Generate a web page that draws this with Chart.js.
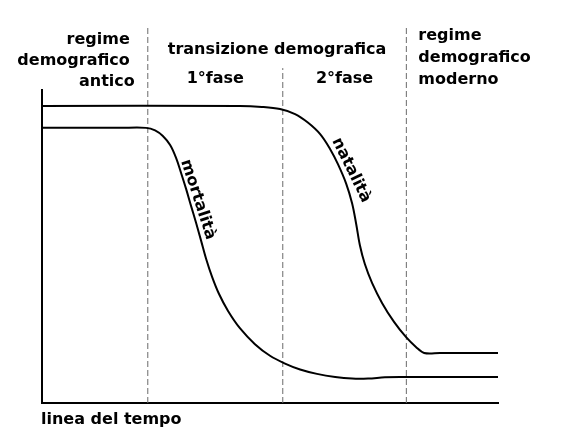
<!DOCTYPE html>
<html>
<head>
<meta charset="utf-8">
<script src="https://cdn.jsdelivr.net/npm/chart.js@4/dist/chart.umd.min.js"></script>
<style>
  html, body { margin: 0; padding: 0; background: #fff; }
  canvas { display: block; }
</style>
</head>
<body>
<canvas id="chart" width="564" height="446"></canvas>
<script>
// time axis 0..100, rate axis 0..100 (arbitrary units)
const natalitaX = [0, 43.4, 48.2, 52.2, 55.5, 58.3, 61.0, 63.2, 64.9, 66.7, 68.0, 68.9, 69.7, 70.8, 72.4, 74.6, 77.2, 79.8, 82.0, 83.8, 87.3, 100];
const natalitaY = [94.9, 94.9, 94.6, 93.9, 92.3, 89.6, 85.9, 81.1, 76.3, 70.1, 63.8, 57.2, 50.5, 44.4, 38.3, 31.9, 25.9, 21.1, 17.9, 16.0, 16.0, 16.0];

const mortalitaX = [0, 17.1, 22.8, 24.8, 26.5, 28.1, 29.4, 30.5, 31.6, 32.7, 33.8, 34.9, 36.0, 37.3, 38.8, 40.8, 43.4, 46.7, 50.0, 53.3, 56.6, 60.3, 64.3, 68.0, 71.5, 75.2, 78.5, 100];
const mortalitaY = [87.9, 87.9, 87.9, 87.1, 85.3, 82.4, 78.3, 73.5, 68.4, 62.9, 57.5, 51.8, 46.0, 40.3, 34.9, 29.4, 23.9, 18.8, 15.1, 12.6, 10.7, 9.3, 8.3, 7.8, 7.8, 8.2, 8.3, 8.3];

// phase boundaries on the time axis and how high each dashed line reaches
const phaseBounds = [23.2, 52.8, 79.9];
const phaseTops = [120, 107, 120];

const FONT = 'bold 16px "DejaVu Sans", Verdana, sans-serif';

const zip = (xs, ys) => xs.map((x, i) => ({x: x, y: ys[i]}));

const curve = (label, xs, ys) => ({
  label: label,
  data: zip(xs, ys),
  borderColor: '#000',
  borderWidth: 2,
  pointRadius: 0,
  tension: 0.35,
  fill: false,
});

const phaseLine = (x, top) => ({
  label: 'fase',
  data: [{x: x, y: 0}, {x: x, y: top}],
  borderColor: '#6b6b6b',
  borderWidth: 1,
  borderDash: [6, 3],
  pointRadius: 0,
  clip: false,
});

const labels = {
  id: 'labels',
  afterDraw(chart) {
    const {ctx, scales: {x, y}} = chart;
    const b = phaseBounds.map(v => x.getPixelForValue(v));
    ctx.save();
    ctx.fillStyle = '#000';
    ctx.font = FONT;
    ctx.textBaseline = 'alphabetic';

    ctx.textAlign = 'right';
    ctx.fillText('regime', b[0] - 18, 44);
    ctx.fillText('demografico', b[0] - 18, 65);
    ctx.fillText('antico', b[0] - 13, 86);

    ctx.textAlign = 'center';
    ctx.fillText('transizione demografica', (b[0] + b[2]) / 2, 54);
    ctx.fillText('1°fase', (b[0] + b[1]) / 2, 83);
    ctx.fillText('2°fase', (b[1] + b[2]) / 2, 83);

    ctx.textAlign = 'left';
    ctx.fillText('regime', b[2] + 12, 40);
    ctx.fillText('demografico', b[2] + 12, 62);
    ctx.fillText('moderno', b[2] + 12, 84);

    ctx.fillText('linea del tempo', chart.chartArea.left - 1, 424);

    const rotated = (text, vx, vy, deg) => {
      ctx.save();
      ctx.translate(x.getPixelForValue(vx), y.getPixelForValue(vy));
      ctx.rotate(deg * Math.PI / 180);
      ctx.textAlign = 'center';
      ctx.textBaseline = 'middle';
      ctx.fillText(text, 0, 0);
      ctx.restore();
    };
    rotated('mortalità', 34.2, 65, 72);
    rotated('natalità', 67.8, 74.4, 64);
    ctx.restore();
  }
};

new Chart(document.getElementById('chart'), {
  type: 'line',
  data: {
    datasets: [
      curve('natalità', natalitaX, natalitaY),
      curve('mortalità', mortalitaX, mortalitaY),
      ...phaseBounds.map((v, i) => phaseLine(v, phaseTops[i])),
    ]
  },
  options: {
    responsive: false,
    animation: false,
    devicePixelRatio: 1,
    layout: {padding: {left: 42, right: 66, top: 90, bottom: 43}},
    scales: {
      x: {
        type: 'linear', min: 0, max: 100,
        ticks: {display: false},
        grid: {display: false},
        border: {display: true, color: '#000', width: 2},
        afterFit: s => { s.height = 0; },
      },
      y: {
        type: 'linear', min: 0, max: 100,
        ticks: {display: false},
        grid: {display: false},
        border: {display: true, color: '#000', width: 2},
        afterFit: s => { s.width = 0; },
      },
    },
    plugins: {
      legend: {display: false},
      tooltip: {enabled: false},
    }
  },
  plugins: [labels],
});
</script>
</body>
</html>
